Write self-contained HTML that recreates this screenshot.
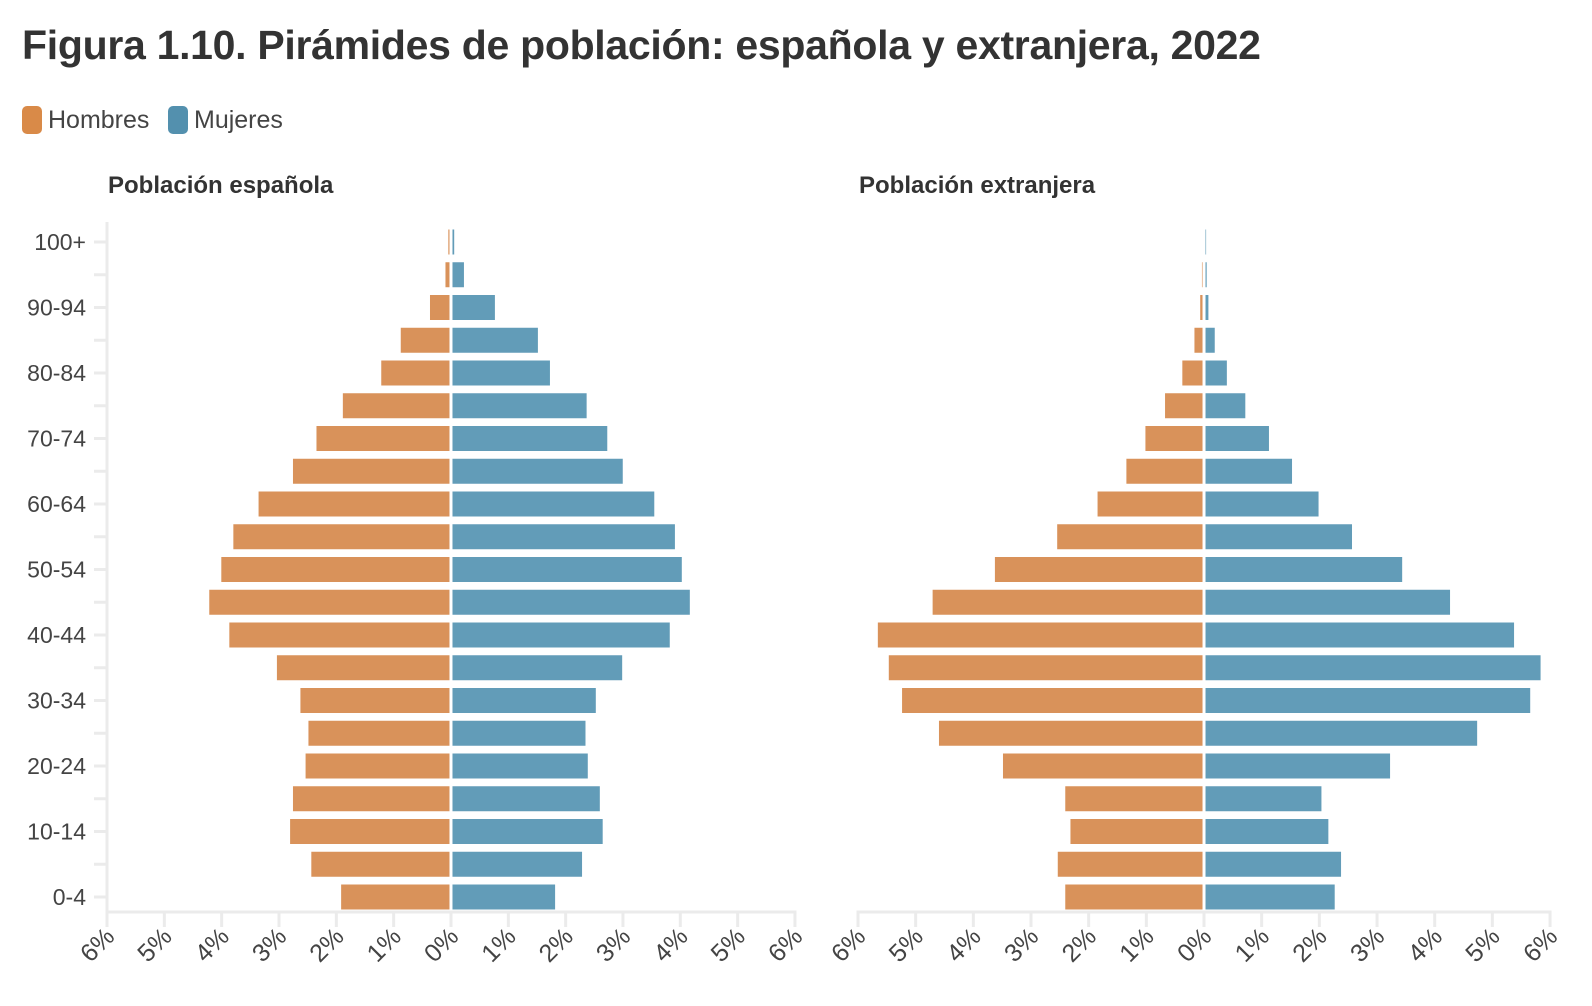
<!DOCTYPE html>
<html><head><meta charset="utf-8">
<style>
body{margin:0;background:#fff;font-family:"Liberation Sans",sans-serif;color:#333;}
#wrap{position:relative;width:1592px;height:1006px;overflow:hidden;}
h1{position:absolute;left:22px;top:22px;margin:0;font-size:41px;font-weight:bold;color:#333;letter-spacing:-0.3px;}
.leg{position:absolute;top:106px;height:28px;display:flex;align-items:center;font-size:25px;color:#444;}
.sw{width:20px;height:28px;border-radius:5px;margin-right:6px;}
</style></head><body>
<div id="wrap">
<h1>Figura 1.10. Pirámides de población: española y extranjera, 2022</h1>
<div class="leg" style="left:22px"><div class="sw" style="background:#d98a48"></div>Hombres</div>
<div class="leg" style="left:168px"><div class="sw" style="background:#5390ae"></div>Mujeres</div>
<svg id="svg" width="1592" height="1006" style="position:absolute;left:0;top:0"></svg>
</div>
<script>
const ages=["100+","95-99","90-94","85-89","80-84","75-79","70-74","65-69","60-64","55-59","50-54","45-49","40-44","35-39","30-34","25-29","20-24","15-19","10-14","5-9","0-4"];
const espHombres=[0.02,0.07,0.34,0.85,1.19,1.86,2.32,2.73,3.33,3.77,3.98,4.19,3.84,3.01,2.60,2.46,2.51,2.73,2.78,2.41,1.89];
const espMujeres=[0.03,0.20,0.74,1.49,1.70,2.34,2.70,2.97,3.52,3.88,4.00,4.14,3.79,2.96,2.50,2.32,2.36,2.57,2.62,2.26,1.79];
const extHombres=[0.0,0.01,0.04,0.14,0.35,0.65,0.99,1.32,1.82,2.52,3.60,4.68,5.63,5.44,5.21,4.57,3.46,2.38,2.29,2.51,2.38];
const extMujeres=[0.01,0.02,0.05,0.16,0.37,0.69,1.10,1.50,1.96,2.54,3.41,4.24,5.35,5.81,5.63,4.71,3.20,2.01,2.13,2.35,2.24];
const ticks=[6,5,4,3,2,1,0,1,2,3,4,5,6];
const NS="http://www.w3.org/2000/svg";
const svg=document.getElementById('svg');
function mk(t,a){const e=document.createElementNS(NS,t);for(const k in a)e.setAttribute(k,a[k]);svg.appendChild(e);return e;}
const yTop=242,yStep=32.75,barH=25,axisY=912;
function y(i){return yTop+i*yStep;}
function panel(x0,pxPer,hom,muj,title,showY,key){
  const cx=x0+6*pxPer;
  const t=mk('text',{x:x0+1,y:193,'font-size':24,'font-weight':'bold',fill:'#333'});t.textContent=title;
  
  
  const sx=v=>v*pxPer;
  if(showY){
    const ax=mk('line',{x1:x0,x2:x0,y1:222,y2:axisY,stroke:'#ebebeb','stroke-width':3});
    
    
    ages.forEach((a,i)=>{
      const tk=mk('line',{x1:x0-13,x2:x0,y1:y(i),y2:y(i),stroke:'#ebebeb','stroke-width':3});
      
      
      if(i%2===0){const l=mk('text',{x:x0-21,y:y(i)+8,'font-size':23,'text-anchor':'end',fill:'#444'});l.textContent=a;
        
        }
    });
  }
  const xa=mk('line',{x1:x0-1.5,x2:x0+12*pxPer+1.5,y1:axisY,y2:axisY,stroke:'#ebebeb','stroke-width':3});
  
  
  ticks.forEach((v,j)=>{
    const tx=x0+j*pxPer;
    const tk=mk('line',{x1:tx,x2:tx,y1:axisY,y2:axisY+15,stroke:'#ebebeb','stroke-width':3});
    
    
    const l=mk('text',{x:tx+9,y:axisY+26,'font-size':25,'text-anchor':'end',fill:'#444',transform:`rotate(-45 ${tx+9} ${axisY+26})`});
    l.textContent=v+'%';
    
    
  });
  ages.forEach((a,i)=>{
    const w1=sx(hom[i]);
    const r1=mk('rect',{x:cx-1.5-w1,y:y(i)-barH/2,width:Math.max(w1,0),height:barH,fill:'#d9925a'});
    
    
    const w2=sx(muj[i]);
    const r2=mk('rect',{x:cx+1.5,y:y(i)-barH/2,width:Math.max(w2,0),height:barH,fill:'#629cb8'});
    
    
  });
}
panel(107,57.33,espHombres,espMujeres,'Población española',true,'espanola');
panel(858,57.67,extHombres,extMujeres,'Población extranjera',false,'extranjera');
</script>
</body></html>
